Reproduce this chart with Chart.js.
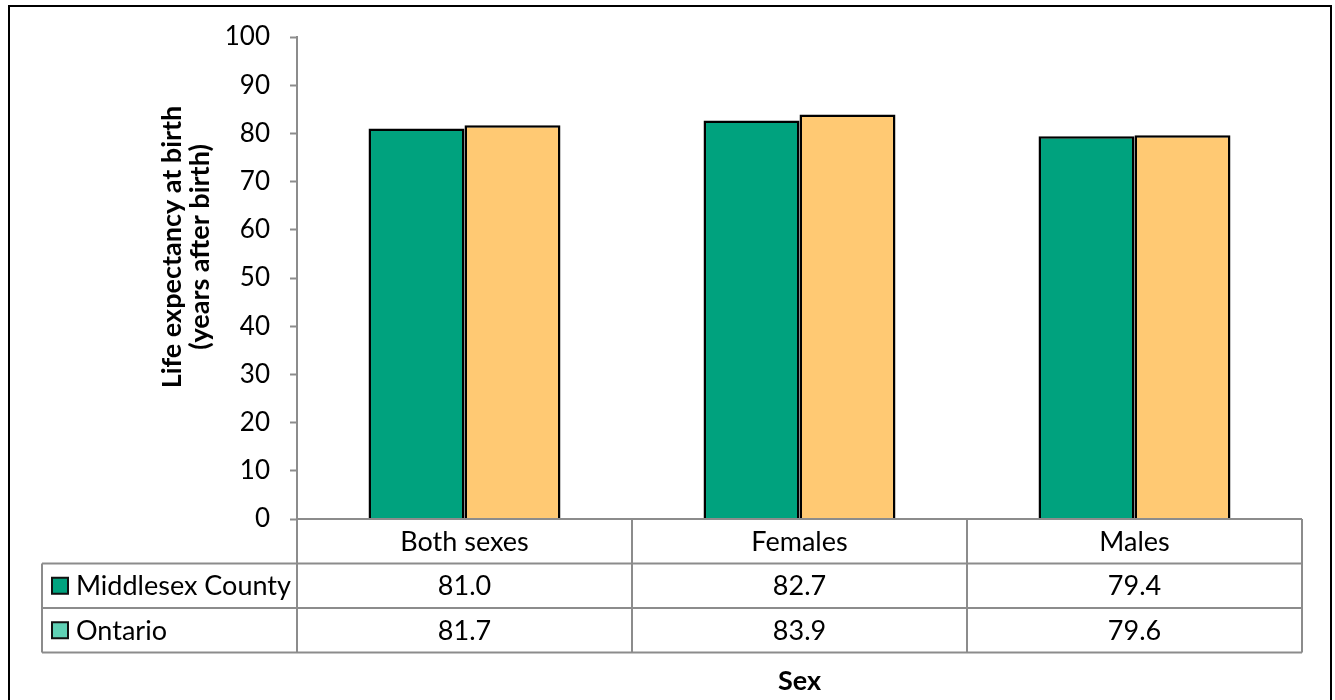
<!DOCTYPE html>
<html>
<head>
<meta charset="utf-8">
<title>Life expectancy at birth by sex</title>
<script src="https://cdn.jsdelivr.net/npm/chart.js@4.4.1/dist/chart.umd.min.js"></script>
<style>
  html, body { margin: 0; padding: 0; background: #fff; overflow: hidden; }
  #wrap { position: relative; width: 1335px; height: 700px; }
  #chart { position: absolute; left: 0; top: 0; }
  #frame {
    position: absolute; left: 8px; top: 5px; width: 1324px; height: 740px;
    border: 2px solid #000; box-sizing: border-box; pointer-events: none;
  }
</style>
</head>
<body>
<div id="wrap">
  <canvas id="chart" width="1335" height="700"></canvas>
  <div id="frame"></div>
</div>
<script>
// Categories along the x axis
const categories = ['Both sexes', 'Females', 'Males'];
// Series names
const seriesNames = ['Middlesex County', 'Ontario'];
// Life expectancy at birth (years)
const middlesexValues = [81.0, 82.7, 79.4];
const ontarioValues = [81.7, 83.9, 79.6];
// Y axis range and step
const yMin = 0;
const yMax = 100;
const yStep = 10;
// Axis titles
const yTitleLines = ['Life expectancy at birth', '(years after birth)'];
const xTitle = 'Sex';

const FONT = 'Lato, "Open Sans", sans-serif';
const GREEN = '#00a27e';
const ORANGE = '#ffc973';
const KEY_COLORS = ['#00a27e', '#5fd0b4'];
const GRID_GRAY = '#8c8c8c';

// Draws the data table under the plot, the axis titles and the legend keys
const dataTablePlugin = {
  id: 'dataTable',
  afterDraw(chart) {
    const ctx = chart.ctx;
    const xs = chart.scales.x;
    const area = chart.chartArea;
    const half = (xs.right - xs.left) / categories.length / 2;
    const rowH = 44.5;
    const top = area.bottom;
    const legendLeft = 42;
    const rows = [top, top + rowH, top + 2 * rowH, top + 3 * rowH];
    const tableRight = xs.getPixelForValue(categories.length - 1) + half;

    ctx.save();
    ctx.strokeStyle = GRID_GRAY;
    ctx.lineWidth = 2;
    ctx.beginPath();
    // horizontal rules
    ctx.moveTo(area.left, rows[0]); ctx.lineTo(tableRight, rows[0]);
    for (let r = 1; r < rows.length; r++) {
      ctx.moveTo(legendLeft, rows[r]); ctx.lineTo(tableRight, rows[r]);
    }
    // vertical rules
    ctx.moveTo(legendLeft, rows[1]); ctx.lineTo(legendLeft, rows[3]);
    for (let i = 0; i <= categories.length; i++) {
      const x = i < categories.length ? xs.getPixelForValue(i) - half : tableRight;
      ctx.moveTo(x, rows[0]); ctx.lineTo(x, rows[3]);
    }
    ctx.stroke();

    ctx.fillStyle = '#000';
    ctx.font = '27px ' + FONT;
    ctx.textBaseline = 'middle';
    ctx.textAlign = 'center';
    categories.forEach((c, i) => {
      const cx = xs.getPixelForValue(i);
      ctx.fillText(c, cx, (rows[0] + rows[1]) / 2 + 1);
      ctx.fillText(middlesexValues[i].toFixed(1), cx, (rows[1] + rows[2]) / 2 + 1);
      ctx.fillText(ontarioValues[i].toFixed(1), cx, (rows[2] + rows[3]) / 2 + 1);
    });

    // legend keys and series names
    ctx.textAlign = 'left';
    seriesNames.forEach((name, k) => {
      const cy = (rows[k + 1] + rows[k + 2]) / 2;
      ctx.fillStyle = KEY_COLORS[k];
      ctx.fillRect(52, cy - 8, 16, 16);
      ctx.strokeStyle = '#111';
      ctx.lineWidth = 2;
      ctx.strokeRect(52, cy - 8, 16, 16);
      ctx.fillStyle = '#000';
      ctx.fillText(name, 76, cy + 1);
    });

    // axis titles
    ctx.font = 'bold 27px ' + FONT;
    ctx.textAlign = 'center';
    ctx.fillText(xTitle, (area.left + tableRight) / 2, 681);
    ctx.translate(172, 247);
    ctx.rotate(-Math.PI / 2);
    yTitleLines.forEach((line, i) => ctx.fillText(line, 0, i * 28));
    ctx.restore();
  }
};

new Chart(document.getElementById('chart'), {
  type: 'bar',
  data: {
    labels: categories,
    datasets: [
      {
        label: seriesNames[0],
        data: middlesexValues,
        backgroundColor: GREEN,
        borderColor: '#000',
        borderWidth: 2.5
      },
      {
        label: seriesNames[1],
        data: ontarioValues,
        backgroundColor: ORANGE,
        borderColor: '#000',
        borderWidth: 2.5
      }
    ]
  },
  options: {
    responsive: false,
    animation: false,
    events: [],
    layout: { padding: { left: 0, top: 37, right: 33, bottom: 181 } },
    datasets: { bar: { categoryPercentage: 0.573, barPercentage: 1 } },
    plugins: {
      legend: { display: false },
      tooltip: { enabled: false },
      title: { display: false }
    },
    scales: {
      x: { display: false },
      y: {
        min: yMin,
        max: yMax,
        afterFit(scale) { scale.width = 297; },
        ticks: {
          stepSize: yStep,
          padding: 20,
          color: '#000',
          font: { family: FONT, size: 26 }
        },
        grid: {
          drawOnChartArea: false,
          drawTicks: true,
          tickLength: 7,
          tickWidth: 2,
          tickColor: GRID_GRAY
        },
        border: { display: true, color: GRID_GRAY, width: 2 }
      }
    }
  },
  plugins: [dataTablePlugin]
});
</script>
</body>
</html>
